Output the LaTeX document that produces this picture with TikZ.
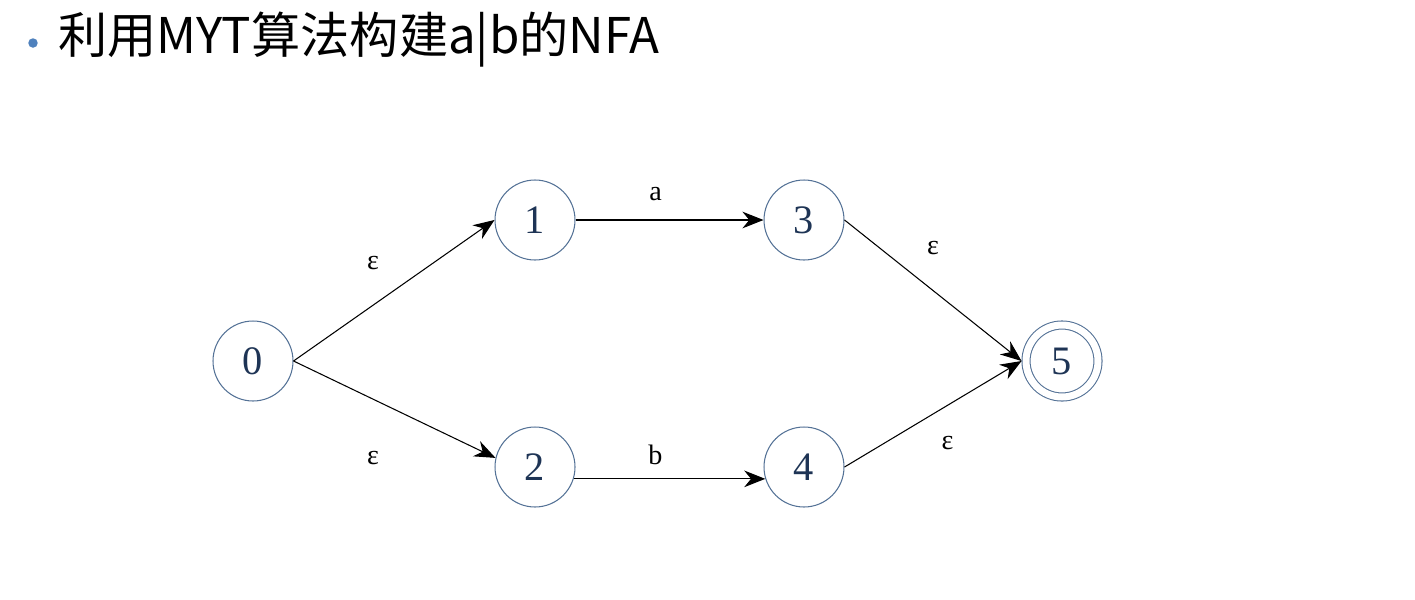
\documentclass[tikz,border=0pt]{standalone}
\usepackage{fontspec}
\setmainfont{Liberation Serif}
\newfontfamily\cjk{Noto Sans CJK SC}
\usetikzlibrary{arrows.meta,positioning}
\definecolor{stateBlue}{RGB}{84,114,150}
\definecolor{digitNavy}{RGB}{30,52,85}
\definecolor{bulletBlue}{RGB}{79,129,189}
\tikzset{
  state/.style={draw=stateBlue, circle, line width=0.6pt, minimum size=1.6cm, inner sep=0pt, text=digitNavy, font=\fontsize{23}{27}\selectfont},
  accept/.style={state, minimum size=1.44cm, double=white, double distance=0.14cm, outer sep=0.09cm},
  edge/.style={-{Stealth[length=12pt,width=9.5pt]}, line width=0.6pt},
  lbl/.style={font=\fontsize{16}{19}\selectfont},
  title/.style={anchor=west, font=\cjk\fontsize{28}{33}\selectfont}
}

\begin{document}
\begin{tikzpicture}[x=0.02cm, y=-0.02cm]
  \useasboundingbox (0,0) rectangle (1415,599);
  \node[circle, fill=bulletBlue, minimum size=0.19cm, inner sep=0pt] (dot) at (33,43) {};
  \node[title] (head) at (52,40) {利用MYT算法构建a|b的NFA};

  \node[state] (n0) at (253,361) {0};
  \node[state] (n1) at (535,220) {1};
  \node[state] (n2) at (535,467) {2};
  \node[state, right=3.76cm of n1] (n3) {3};
  \node[state, right=3.76cm of n2] (n4) {4};
  \node[accept] (n5) at (1062,361) {5};

  \draw[edge] (n0.east) -- node[lbl, xshift=-0.42cm, yshift=0.55cm] {ε} (n1.west);
  \draw[edge] (n0.east) -- node[lbl, xshift=-0.43cm, yshift=-0.97cm] {ε} (n2.167);
  \draw[edge] (n1.east) -- node[lbl, xshift=-0.28cm, yshift=0.52cm] {a} (n3.west);
  \draw[edge] (n2.-17) -- node[lbl, xshift=-0.28cm, yshift=0.48cm] {b} (n4.197);
  \draw[edge] (n3.east) -- node[lbl, yshift=0.85cm] {ε} (n5.west);
  \draw[edge] (n4.east) -- node[lbl, xshift=0.29cm, yshift=-0.58cm] {ε} (n5.west);
\end{tikzpicture}
\end{document}
